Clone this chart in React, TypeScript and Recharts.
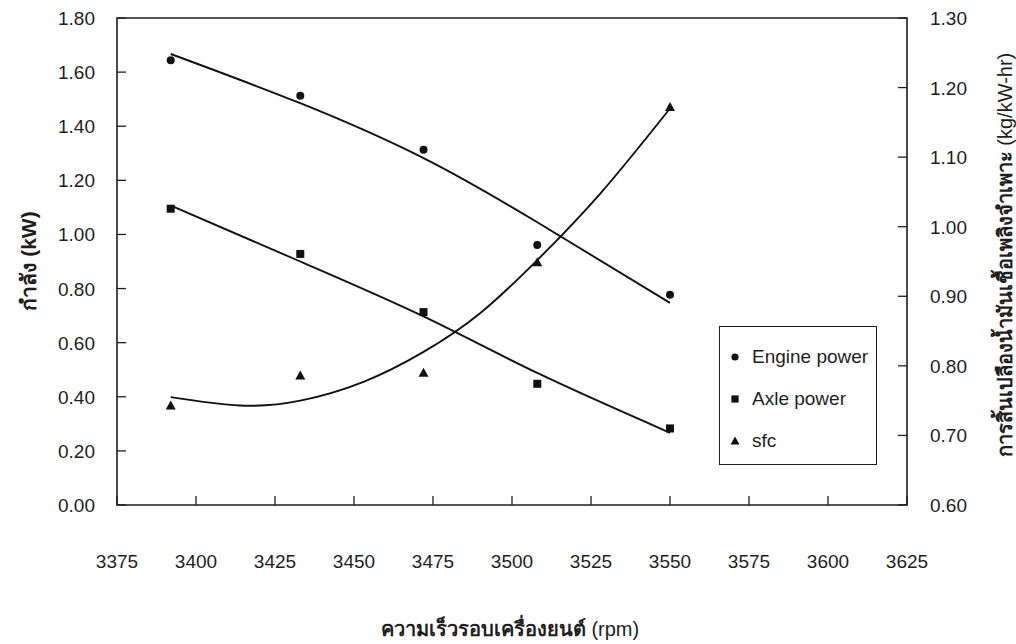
import React from "react"
import { ComposedChart, Line, Scatter, XAxis, YAxis, ReferenceArea, Legend } from "recharts"

// measured points
const rpm = [3392, 3433, 3472, 3508, 3550]
const enginePower = [1.644, 1.513, 1.313, 0.961, 0.777]
const axlePower = [1.095, 0.928, 0.713, 0.448, 0.283]
const sfc = [0.743, 0.786, 0.79, 0.949, 1.172]

// fitted curves
const fitRpm = [3392, 3433, 3472, 3508, 3550]
const engineFit = [1.667, 1.485, 1.282, 1.045, 0.747]
const axleFit = [1.107, 0.9, 0.697, 0.488, 0.267]
const sfcFitRpm = [3392, 3414, 3433, 3453, 3472, 3490, 3508, 3528, 3550]
const sfcFit = [0.755, 0.743, 0.75, 0.777, 0.82, 0.876, 0.952, 1.048, 1.17]

const xTicks = [3375, 3400, 3425, 3450, 3475, 3500, 3525, 3550, 3575, 3600, 3625]
const leftTicks = [0, 0.2, 0.4, 0.6, 0.8, 1.0, 1.2, 1.4, 1.6, 1.8]
const rightTicks = [0.6, 0.7, 0.8, 0.9, 1.0, 1.1, 1.2, 1.3]

const legendItems = ["Engine power", "Axle power", "sfc"]

const FONT = "'Liberation Sans', Arial, sans-serif"
const INK = "#1e1e1e"

const toRows = (xs: number[], ys: number[]) => xs.map((x, i) => ({ rpm: x, value: ys[i] }))

const engineData = toRows(rpm, enginePower)
const axleData = toRows(rpm, axlePower)
const sfcData = toRows(rpm, sfc)
const engineFitData = toRows(fitRpm, engineFit)
const axleFitData = toRows(fitRpm, axleFit)
const sfcFitData = toRows(sfcFitRpm, sfcFit)

const XTick = (props: any) => {
    const { x, y, payload } = props
    return (
        <g>
            <line x1={x} y1={y} x2={x} y2={y - 9} stroke={INK} strokeWidth={1.3} />
            <text x={x} y={y + 63} textAnchor="middle" fontSize={19} fill={INK} fontFamily={FONT}>
                {payload.value}
            </text>
        </g>
    )
}

const LeftTick = (props: any) => {
    const { x, y, payload } = props
    return (
        <g>
            <line x1={x} y1={y} x2={x + 9} y2={y} stroke={INK} strokeWidth={1.3} />
            <text x={x - 22} y={y + 7} textAnchor="end" fontSize={19} fill={INK} fontFamily={FONT}>
                {Number(payload.value).toFixed(2)}
            </text>
        </g>
    )
}

const RightTick = (props: any) => {
    const { x, y, payload } = props
    return (
        <g>
            <line x1={x} y1={y} x2={x - 9} y2={y} stroke={INK} strokeWidth={1.3} />
            <text x={x + 23} y={y + 7} textAnchor="start" fontSize={19} fill={INK} fontFamily={FONT}>
                {Number(payload.value).toFixed(2)}
            </text>
        </g>
    )
}

const Dot = (p: any) => <circle cx={p.cx} cy={p.cy} r={4} fill="#111" />
const Square = (p: any) => <rect x={p.cx - 4} y={p.cy - 4} width={8} height={8} fill="#111" />
const Triangle = (p: any) => (
    <polygon points={`${p.cx},${p.cy - 5} ${p.cx + 5},${p.cy + 4} ${p.cx - 5},${p.cy + 4}`} fill="#111" />
)

const legendMarker = (i: number) => {
    if (i === 0) return <circle cx={6} cy={6} r={3.6} fill="#111" />
    if (i === 1) return <rect x={2.4} y={2.4} width={7.2} height={7.2} fill="#111" />
    return <polygon points="6,1.5 10.5,9.5 1.5,9.5" fill="#111" />
}

const LegendBox = () => (
    <div
        style={{
            position: "relative",
            width: 158,
            height: 139,
            border: `1px solid ${INK}`,
            boxSizing: "border-box",
            background: "#fff",
            fontFamily: FONT,
            fontSize: 19,
            color: INK,
        }}
    >
        {legendItems.map((name, i) => (
            <div key={name} style={{ position: "absolute", left: 9, top: 19 + i * 42, display: "flex", alignItems: "center", lineHeight: "22px" }}>
                <svg width={12} height={12} style={{ marginRight: 11 }}>
                    {legendMarker(i)}
                </svg>
                <span>{name}</span>
            </div>
        ))}
    </div>
)

export default function App() {
    return (
        <div style={{ position: "absolute", left: 0, top: 0, width: 1016, height: 644, background: "#fff" }}>
            <ComposedChart width={1016} height={644} margin={{ top: 18, right: 0, left: 0, bottom: 0 }} style={{ fontFamily: FONT }}>
                <XAxis
                    xAxisId="x"
                    dataKey="rpm"
                    type="number"
                    domain={[3375, 3625]}
                    ticks={xTicks}
                    interval={0}
                    allowDataOverflow
                    height={139}
                    tickSize={0}
                    tickMargin={0}
                    axisLine={false}
                    tickLine={false}
                    tick={<XTick />}
                    label={() => (
                        <text x={510} y={636} textAnchor="middle" fontSize={20} fill={INK} fontFamily={FONT}>
                            <tspan fontWeight="bold">ความเร็วรอบเครื่องยนต์</tspan>
                            <tspan> (rpm)</tspan>
                        </text>
                    )}
                />
                <YAxis
                    yAxisId="left"
                    orientation="left"
                    type="number"
                    domain={[0, 1.8]}
                    ticks={leftTicks}
                    interval={0}
                    width={117}
                    tickSize={0}
                    tickMargin={0}
                    axisLine={false}
                    tickLine={false}
                    tick={<LeftTick />}
                    label={() => (
                        <text
                            x={36}
                            y={261}
                            transform="rotate(-90, 36, 261)"
                            textAnchor="middle"
                            fontSize={21}
                            fontWeight="bold"
                            fill={INK}
                            fontFamily={FONT}
                        >
                            กำลัง (kW)
                        </text>
                    )}
                />
                <YAxis
                    yAxisId="right"
                    orientation="right"
                    type="number"
                    domain={[0.6, 1.3]}
                    ticks={rightTicks}
                    interval={0}
                    width={109}
                    tickSize={0}
                    tickMargin={0}
                    axisLine={false}
                    tickLine={false}
                    tick={<RightTick />}
                    label={() => (
                        <text
                            x={1012}
                            y={255}
                            transform="rotate(-90, 1012, 255)"
                            textAnchor="middle"
                            fontSize={20}
                            fill={INK}
                            fontFamily={FONT}
                        >
                            <tspan fontWeight="bold">การสิ้นเปลืองน้ำมันเชื้อเพลิงจำเพาะ</tspan>
                            <tspan> (kg/kW-hr)</tspan>
                        </text>
                    )}
                />
                <ReferenceArea
                    xAxisId="x"
                    yAxisId="left"
                    x1={3375}
                    x2={3625}
                    y1={0}
                    y2={1.8}
                    fill="none"
                    stroke={INK}
                    strokeWidth={1.6}
                    ifOverflow="extendDomain"
                />
                <Line xAxisId="x" yAxisId="left" data={engineFitData} dataKey="value" type="natural" stroke="#111" strokeWidth={1.9} dot={false} isAnimationActive={false} legendType="none" />
                <Line xAxisId="x" yAxisId="left" data={axleFitData} dataKey="value" type="natural" stroke="#111" strokeWidth={1.9} dot={false} isAnimationActive={false} legendType="none" />
                <Line xAxisId="x" yAxisId="right" data={sfcFitData} dataKey="value" type="natural" stroke="#111" strokeWidth={1.9} dot={false} isAnimationActive={false} legendType="none" />
                <Scatter xAxisId="x" yAxisId="left" name="Engine power" data={engineData} dataKey="value" shape={Dot} isAnimationActive={false} />
                <Scatter xAxisId="x" yAxisId="left" name="Axle power" data={axleData} dataKey="value" shape={Square} isAnimationActive={false} />
                <Scatter xAxisId="x" yAxisId="right" name="sfc" data={sfcData} dataKey="value" shape={Triangle} isAnimationActive={false} />
                <Legend
                    layout="horizontal"
                    verticalAlign="middle"
                    align="center"
                    content={() => <LegendBox />}
                    wrapperStyle={{ left: 719, top: 326, width: 158, height: 139 }}
                />
            </ComposedChart>
        </div>
    )
}
